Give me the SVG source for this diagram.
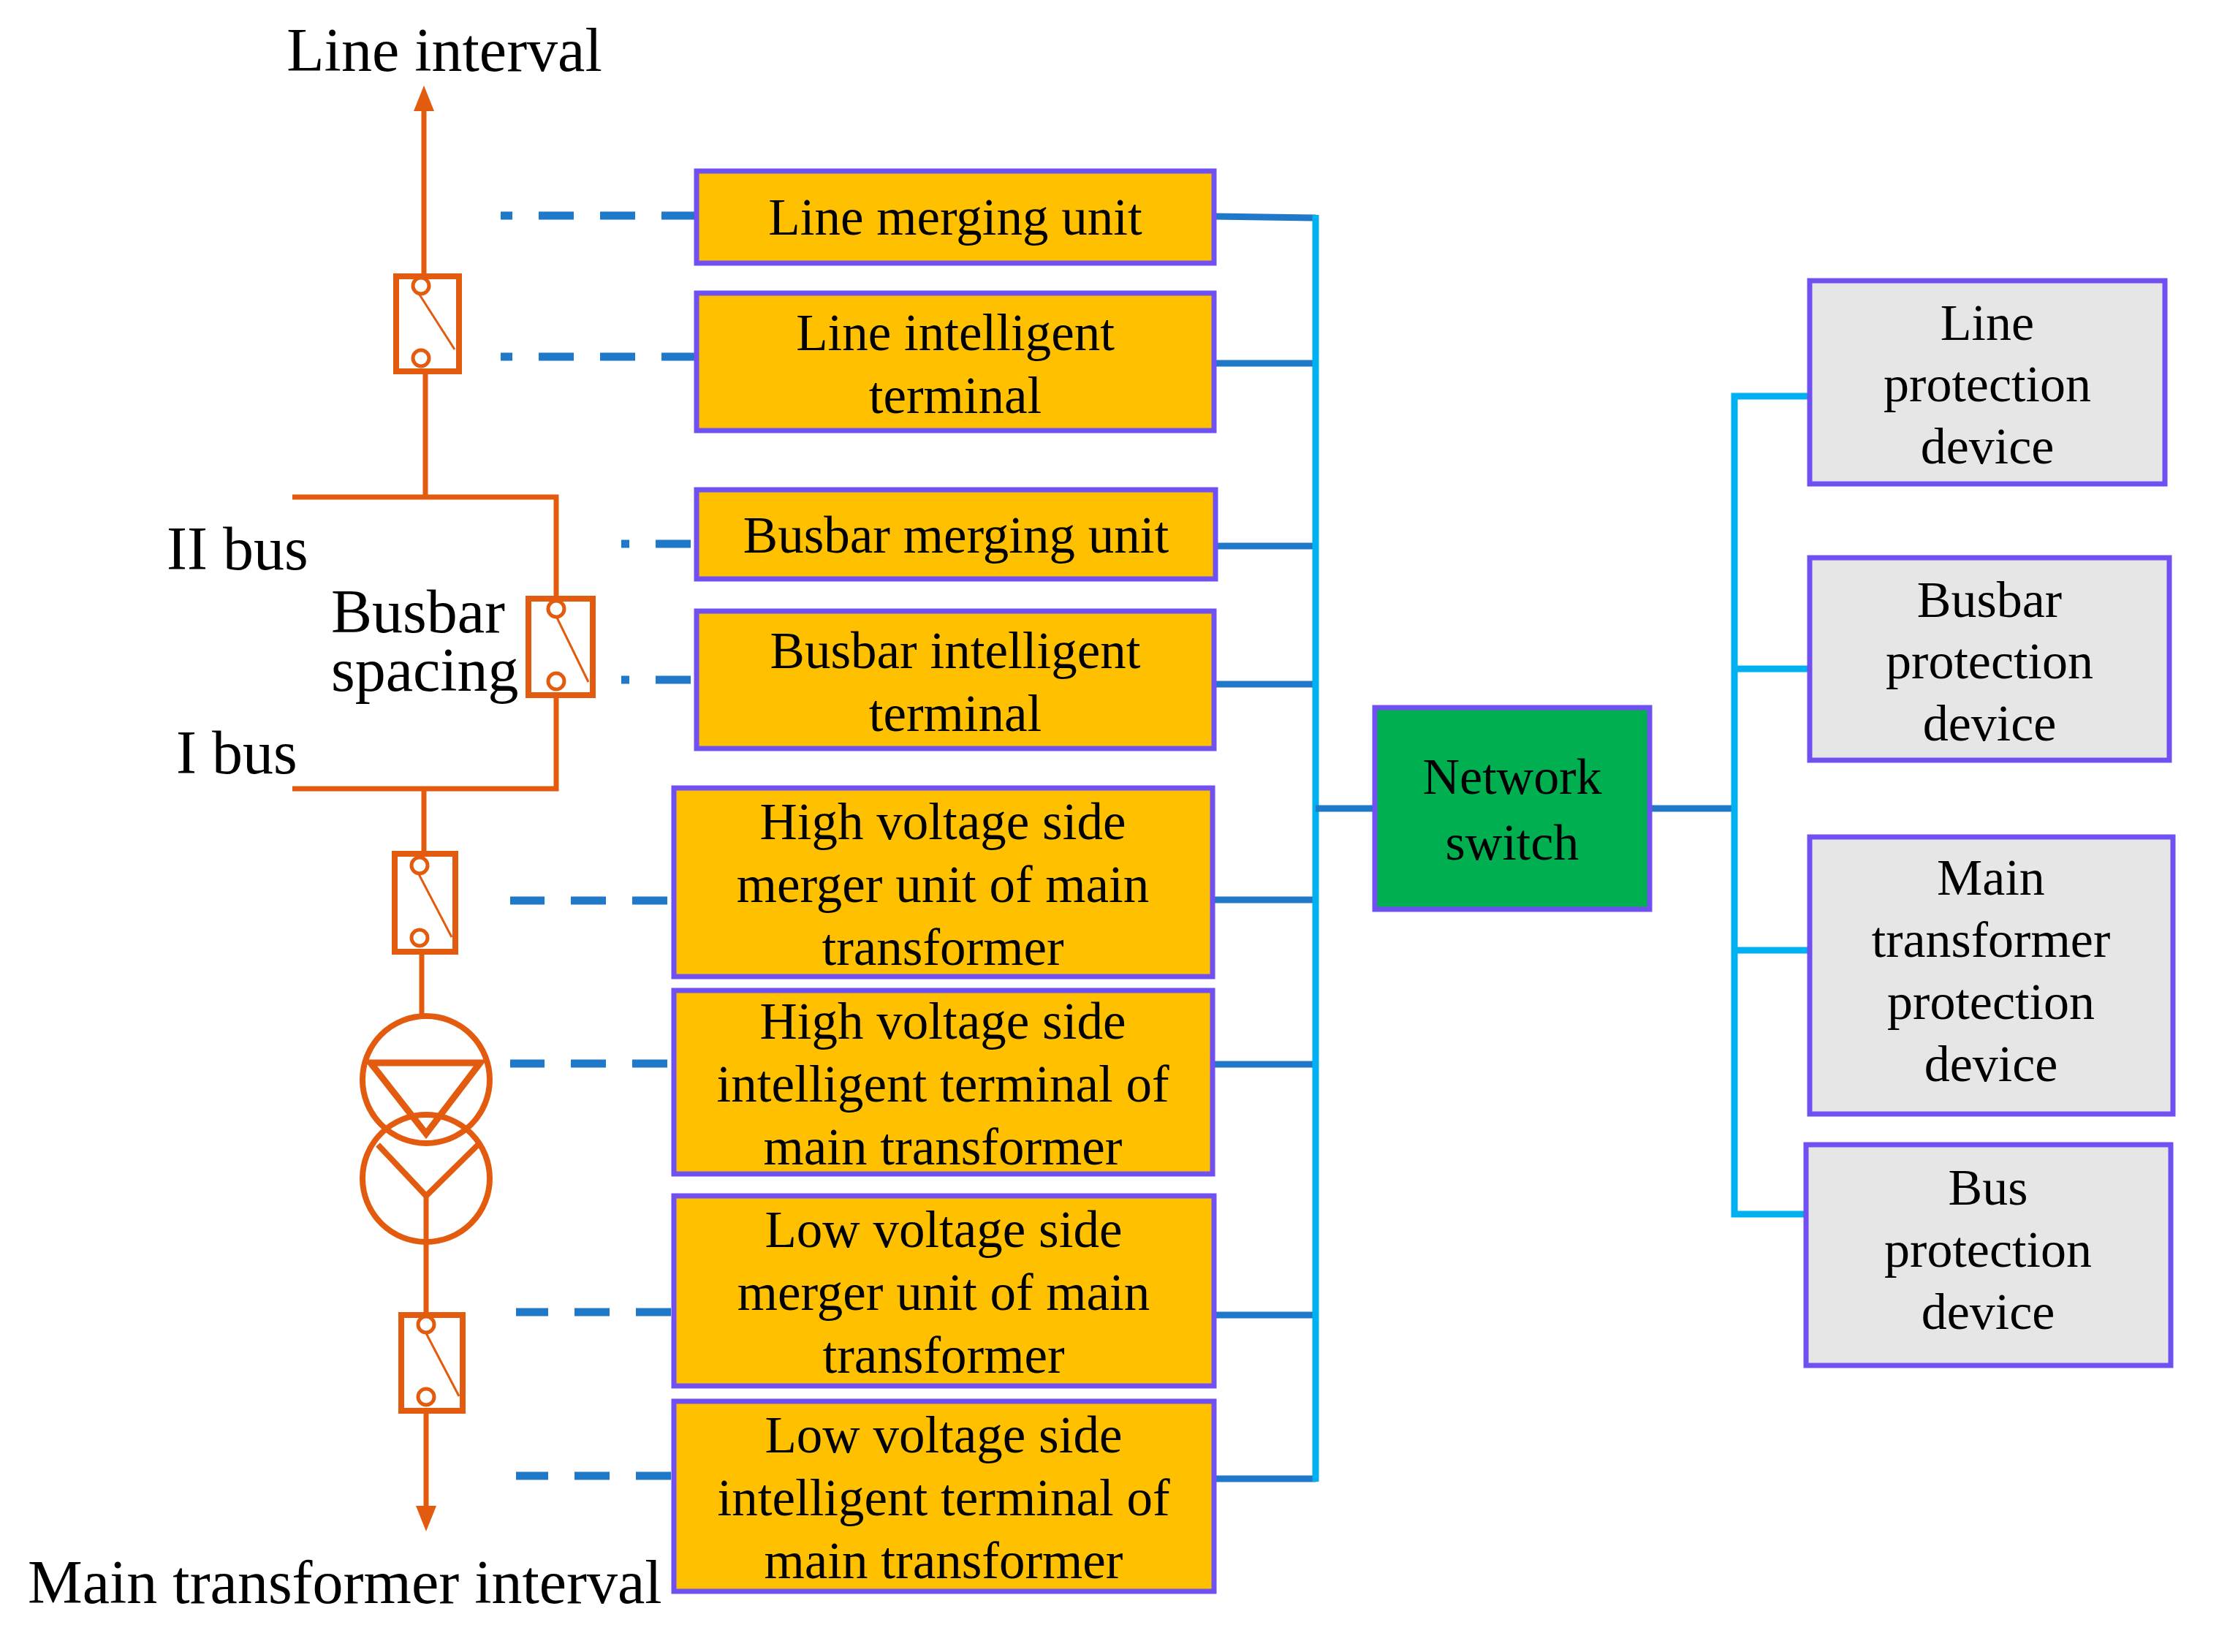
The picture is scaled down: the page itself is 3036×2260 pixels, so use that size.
<svg xmlns="http://www.w3.org/2000/svg" width="3036" height="2260" viewBox="0 0 3036 2260">
<style>
text{font-family:"Liberation Serif","Times New Roman",serif;fill:#000;text-anchor:middle}
.lbl{font-size:84px}
.bt{font-size:71px}
.gt{font-size:70px}
.yb{fill:#FFC000;stroke:#7050F0;stroke-width:7}
.gb{fill:#E6E6E6;stroke:#7050F0;stroke-width:7}
.or{stroke:#E35B0E;stroke-width:7;fill:none}
.brk{stroke:#E35B0E;stroke-width:8;fill:none}
.cir{stroke:#E35B0E;stroke-width:5;fill:#fff}
.thin{stroke:#E35B0E;stroke-width:3;fill:none}
.orf{fill:#E35B0E}
.dash{stroke:#1F78C8;stroke-width:11;stroke-dasharray:48 36;fill:none}
.blu{stroke:#1F78C8;stroke-width:9;fill:none}
.cy{stroke:#00B0F0;stroke-width:9;fill:none}
</style>
<rect width="3036" height="2260" fill="#fff"/>
<g id="schematic">
<text class="lbl" x="608" y="97">Line interval</text>
<line class="or" x1="580" y1="145" x2="580" y2="378"/>
<polygon class="orf" points="580,117 566,152 594,152"/>
<rect class="brk" x="542" y="378" width="86" height="130"/>
<line class="thin" x1="572" y1="400" x2="622" y2="478"/>
<circle class="cir" cx="576" cy="391" r="11"/>
<circle class="cir" cx="576" cy="490" r="11"/>
<line class="or" x1="582" y1="508" x2="582" y2="680"/>
<polyline class="or" points="400,680 761,680 761,819"/>
<rect class="brk" x="723" y="819" width="88" height="132"/>
<line class="thin" x1="761" y1="843" x2="805" y2="933"/>
<circle class="cir" cx="761" cy="833" r="11"/>
<circle class="cir" cx="761" cy="932" r="11"/>
<polyline class="or" points="761,951 761,1079 400,1079"/>
<text class="lbl" x="228" y="779" style="text-anchor:start">II bus</text>
<text class="lbl" x="453" y="865" style="text-anchor:start">Busbar</text>
<text class="lbl" x="453" y="945" style="text-anchor:start">spacing</text>
<text class="lbl" x="241" y="1058" style="text-anchor:start">I bus</text>
<line class="or" x1="580" y1="1079" x2="580" y2="1168"/>
<rect class="brk" x="540" y="1168" width="83" height="134"/>
<line class="thin" x1="572" y1="1194" x2="618" y2="1282"/>
<circle class="cir" cx="574" cy="1184" r="11"/>
<circle class="cir" cx="574" cy="1283" r="11"/>
<line class="or" x1="577" y1="1302" x2="577" y2="1390"/>
<circle class="or" cx="583" cy="1477" r="87" style="stroke-width:8"/>
<circle class="or" cx="583" cy="1612" r="87" style="stroke-width:8"/>
<polygon class="or" points="507,1454 657,1454 583,1551" style="stroke-width:9"/>
<polyline class="or" points="517,1566 583,1636 654,1566" style="stroke-width:8"/>
<line class="or" x1="583" y1="1636" x2="583" y2="1799"/>
<rect class="brk" x="549" y="1799" width="84" height="131"/>
<line class="thin" x1="582" y1="1822" x2="628" y2="1910"/>
<circle class="cir" cx="583" cy="1812" r="11"/>
<circle class="cir" cx="583" cy="1911" r="11"/>
<line class="or" x1="583" y1="1930" x2="583" y2="2065"/>
<polygon class="orf" points="583,2095 569,2060 597,2060"/>
<text class="lbl" x="38" y="2193" style="text-anchor:start">Main transformer interval</text>
</g>
<g id="connectors">
<line class="dash" x1="953" y1="295" x2="685" y2="295"/>
<line class="dash" x1="953" y1="488" x2="685" y2="488"/>
<line class="dash" x1="945" y1="744" x2="850" y2="744"/>
<line class="dash" x1="945" y1="930" x2="850" y2="930"/>
<line class="dash" x1="913" y1="1232" x2="698" y2="1232"/>
<line class="dash" x1="913" y1="1455" x2="698" y2="1455"/>
<line class="dash" x1="918" y1="1795" x2="706" y2="1795"/>
<line class="dash" x1="918" y1="2019" x2="706" y2="2019"/>
<polyline class="blu" points="1661,296 1800,298"/>
<line class="blu" x1="1661" y1="497" x2="1800" y2="497"/>
<line class="blu" x1="1663" y1="747" x2="1800" y2="747"/>
<line class="blu" x1="1661" y1="936" x2="1800" y2="936"/>
<line class="blu" x1="1659" y1="1231" x2="1800" y2="1231"/>
<line class="blu" x1="1659" y1="1456" x2="1800" y2="1456"/>
<line class="blu" x1="1661" y1="1799" x2="1800" y2="1799"/>
<line class="blu" x1="1661" y1="2023" x2="1800" y2="2023"/>
<line class="cy" x1="1800" y1="294" x2="1800" y2="2027"/>
<line class="blu" x1="1800" y1="1106" x2="1881" y2="1106"/>
<line class="blu" x1="2257" y1="1106" x2="2373" y2="1106"/>
<polyline class="cy" points="2476,542 2373,542 2373,1661 2476,1661"/>
<line class="cy" x1="2373" y1="915" x2="2476" y2="915"/>
<line class="cy" x1="2373" y1="1300" x2="2476" y2="1300"/>
</g>
<g id="n1"><rect class="yb" x="953" y="234" width="708" height="126"/><text class="bt" x="1307" y="321">Line merging unit</text></g>
<g id="n2"><rect class="yb" x="953" y="401" width="708" height="188"/><text class="bt" x="1307" y="479">Line intelligent</text><text class="bt" x="1307" y="565">terminal</text></g>
<g id="n3"><rect class="yb" x="953" y="670" width="710" height="122"/><text class="bt" x="1308" y="756">Busbar merging unit</text></g>
<g id="n4"><rect class="yb" x="953" y="836" width="708" height="188"/><text class="bt" x="1307" y="914">Busbar intelligent</text><text class="bt" x="1307" y="1000">terminal</text></g>
<g id="n5"><rect class="yb" x="922" y="1078" width="737" height="258"/><text class="bt" x="1290" y="1148">High voltage side</text><text class="bt" x="1290" y="1234">merger unit of main</text><text class="bt" x="1290" y="1320">transformer</text></g>
<g id="n6"><rect class="yb" x="922" y="1355" width="737" height="251"/><text class="bt" x="1290" y="1421">High voltage side</text><text class="bt" x="1290" y="1507">intelligent terminal of</text><text class="bt" x="1290" y="1593">main transformer</text></g>
<g id="n7"><rect class="yb" x="922" y="1636" width="739" height="260"/><text class="bt" x="1291" y="1706">Low voltage side</text><text class="bt" x="1291" y="1792">merger unit of main</text><text class="bt" x="1291" y="1878">transformer</text></g>
<g id="n8"><rect class="yb" x="922" y="1917" width="739" height="260"/><text class="bt" x="1291" y="1987">Low voltage side</text><text class="bt" x="1291" y="2073">intelligent terminal of</text><text class="bt" x="1291" y="2159">main transformer</text></g>
<g id="switch"><rect x="1881" y="968" width="376" height="276" fill="#00B050" stroke="#7050F0" stroke-width="7"/><text class="gt" x="2069" y="1086">Network</text><text class="gt" x="2069" y="1176">switch</text></g>
<g id="p1"><rect class="gb" x="2476" y="384" width="486" height="278"/><text class="gt" x="2719" y="465">Line</text><text class="gt" x="2719" y="549">protection</text><text class="gt" x="2719" y="634">device</text></g>
<g id="p2"><rect class="gb" x="2476" y="763" width="492" height="277"/><text class="gt" x="2722" y="844">Busbar</text><text class="gt" x="2722" y="928">protection</text><text class="gt" x="2722" y="1013">device</text></g>
<g id="p3"><rect class="gb" x="2476" y="1145" width="497" height="379"/><text class="gt" x="2724" y="1224">Main</text><text class="gt" x="2724" y="1309">transformer</text><text class="gt" x="2724" y="1394">protection</text><text class="gt" x="2724" y="1479">device</text></g>
<g id="p4"><rect class="gb" x="2471" y="1566" width="499" height="302"/><text class="gt" x="2720" y="1648">Bus</text><text class="gt" x="2720" y="1733">protection</text><text class="gt" x="2720" y="1818">device</text></g>
</svg>
